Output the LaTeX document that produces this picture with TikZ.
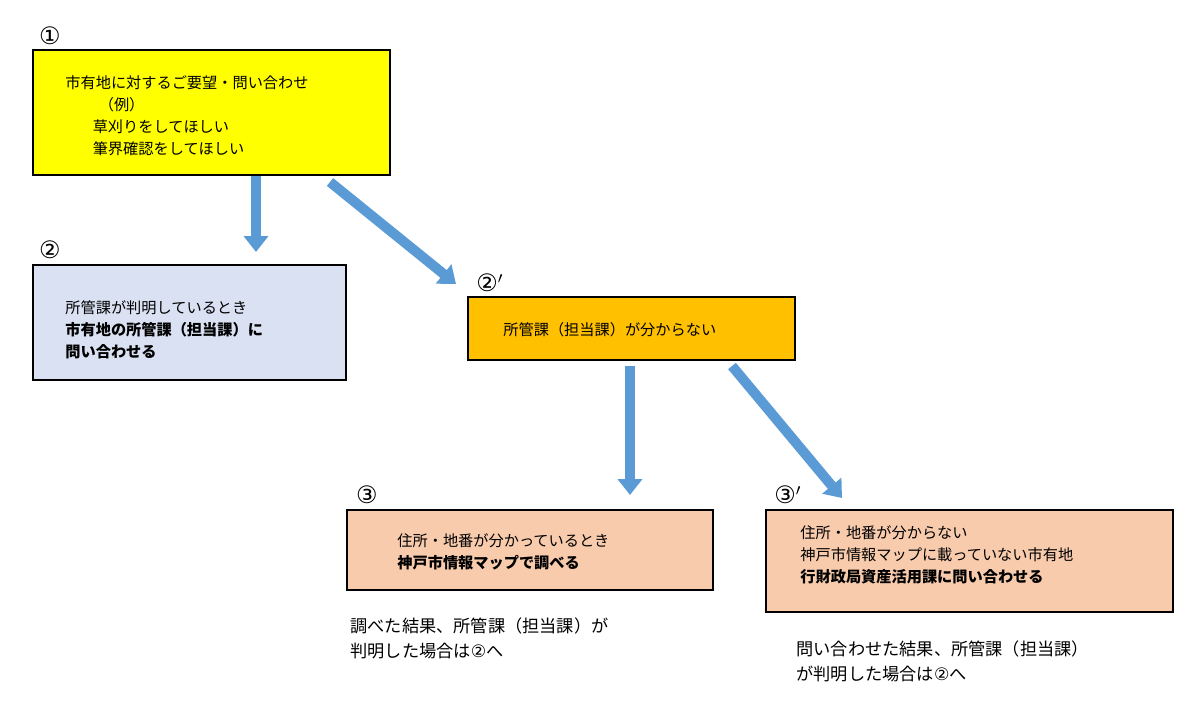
\documentclass[tikz,border=0pt]{standalone}
\usepackage{fontspec}
\setmainfont{Noto Sans CJK JP}
\newfontfamily\symfont{DejaVu Sans}
\usetikzlibrary{arrows.meta}
\definecolor{boxyellow}{RGB}{255,255,0}
\definecolor{boxblue}{RGB}{217,225,242}
\definecolor{boxorange}{RGB}{255,192,0}
\definecolor{boxsalmon}{RGB}{248,203,173}
\definecolor{arrowblue}{RGB}{91,155,213}
\tikzset{
  box/.style={draw=black,line width=0.6pt},
  txt/.style={anchor=north west,align=left,font=\fontsize{7.6}{11}\selectfont,inner sep=0pt},
  num/.style={anchor=center,font=\fontsize{12}{12}\selectfont},
  bigarrow/.style={arrowblue,line width=5pt,-{Triangle[width=12pt,length=8pt]}},
}
\begin{document}
\begin{tikzpicture}[x=0.5pt,y=-0.5pt]
  \useasboundingbox (0,0) rectangle (1200,706);
  % boxes
  \filldraw[box,fill=boxyellow] (33,50) rectangle (390,175);
  \filldraw[box,fill=boxblue] (33,265) rectangle (346,380);
  \filldraw[box,fill=boxorange] (468,297) rectangle (795,360);
  \filldraw[box,fill=boxsalmon] (347,510) rectangle (713,590);
  \filldraw[box,fill=boxsalmon] (766,510) rectangle (1173,612);
  % numbers
  \node[num] (n1) at (50,36) {\symfont ①};
  \node[num] (n2) at (50,250) {\symfont ②};
  \node[num] (n2b) at (490,283) {\symfont ②$'$};
  \node[num] (n3) at (367,495) {\symfont ③};
  \node[num] (n3b) at (788,495) {\symfont ③$'$};
  % texts
  \node[txt] (t1) at (65,75) {市有地に対するご要望・問い合わせ\\
    \hspace{2.2em}（例）\\
    \hspace{1.8em}草刈りをしてほしい\\
    \hspace{1.8em}筆界確認をしてほしい};
  \node[txt] (t2) at (65,300) {所管課が判明しているとき\\
    \textbf{市有地の所管課（担当課）に}\\
    \textbf{問い合わせる}};
  \node[txt] (t2b) at (503,322) {所管課（担当課）が分からない};
  \node[txt] (t3) at (397,533) {住所・地番が分かっているとき\\
    \textbf{神戸市情報マップで調べる}};
  \node[txt] (t3b) at (800,525) {住所・地番が分からない\\
    神戸市情報マップに載っていない市有地\\
    \textbf{行財政局資産活用課に問い合わせる}};
  \node[txt,font=\fontsize{8.6}{12.5}\selectfont] (r3) at (350,617) {調べた結果、所管課（担当課）が\\判明した場合は{\symfont ②}へ};
  \node[txt,font=\fontsize{8.6}{12.5}\selectfont] (r3b) at (796,640) {問い合わせた結果、所管課（担当課）\\が判明した場合は{\symfont ②}へ};
  % arrows
  \coordinate (a1s) at (256,176);
  \coordinate (a1e) at (256,252);
  \coordinate (a2s) at (330,182);
  \coordinate (a2e) at (456,284);
  \coordinate (a3s) at (630,366);
  \coordinate (a3e) at (630,495);
  \coordinate (a4s) at (732,366);
  \coordinate (a4e) at (842,498);
  \draw[bigarrow] (a1s) -- (a1e);
  \draw[bigarrow] (a2s) -- (a2e);
  \draw[bigarrow] (a3s) -- (a3e);
  \draw[bigarrow] (a4s) -- (a4e);
\end{tikzpicture}
\end{document}
